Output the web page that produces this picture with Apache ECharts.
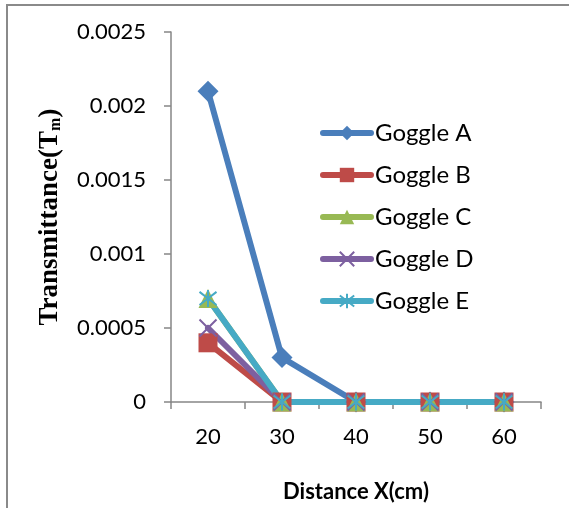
<!DOCTYPE html>
<html>
<head>
<meta charset="utf-8">
<script src="https://cdn.jsdelivr.net/npm/echarts@6/dist/echarts.min.js"></script>
<style>
html,body{margin:0;padding:0;background:#fff;}
#c{width:569px;height:508px;}
</style>
</head>
<body>
<div id="c"></div>
<script>
var categories = ['20', '30', '40', '50', '60'];
var goggleA = [0.0021, 0.0003, 0, 0, 0];
var goggleB = [0.0004, 0, 0, 0, 0];
var goggleC = [0.0007, 0, 0, 0, 0];
var goggleD = [0.0005, 0, 0, 0, 0];
var goggleE = [0.0007, 0, 0, 0, 0];
var seriesNames = ['Goggle A', 'Goggle B', 'Goggle C', 'Goggle D', 'Goggle E'];
var colors = ['#4A7EBB', '#BE4B48', '#98B954', '#7D60A0', '#46AAC5'];

var crossPath = 'path://M0,0L10,10M10,0L0,10';
var starPath = 'path://M0,0L10,10M10,0L0,10M5,-1.5L5,11.5';

function mk(name, data, color, symbol, size, extra) {
  return {
    name: name,
    type: 'line',
    data: data,
    symbol: symbol,
    symbolSize: size,
    showAllSymbol: true,
    lineStyle: { width: 6, color: color, cap: 'round', join: 'round' },
    itemStyle: Object.assign({ color: color }, extra || {}),
    emphasis: { disabled: true },
    animation: false
  };
}

var chart = echarts.init(document.getElementById('c'), null, { renderer: 'canvas' });
chart.setOption({
  backgroundColor: '#fff',
  animation: false,
  color: colors,
  graphic: [{
    type: 'rect',
    shape: { x: 7, y: 5, width: 620, height: 620 },
    style: { fill: 'none', stroke: '#8a8a8a', lineWidth: 2 },
    silent: true
  }],
  grid: { left: 171, right: 28, top: 32, bottom: 106, containLabel: false, outerBoundsMode: 'none' },
  legend: {
    orient: 'vertical',
    left: 320,
    top: 121,
    padding: 0,
    itemWidth: 48,
    itemHeight: 18,
    itemGap: 18,
    data: seriesNames,
    lineStyle: { width: 6, cap: 'round' },
    textStyle: { fontFamily: 'Lato', fontSize: 24, color: '#000', lineHeight: 23, padding: [0, 0, 0, -1] }
  },
  xAxis: {
    type: 'category',
    data: categories,
    boundaryGap: true,
    name: 'Distance X(cm)',
    nameLocation: 'middle',
    nameGap: 79,
    nameTextStyle: { fontFamily: 'Lato', fontWeight: 'bold', fontSize: 22, color: '#000' },
    axisLine: { lineStyle: { color: '#868686', width: 1.5 } },
    axisTick: { show: true, length: 7, lineStyle: { color: '#868686', width: 1.5 } },
    axisLabel: { fontFamily: 'Lato', fontSize: 22, color: '#000', margin: 24 },
    splitLine: { show: false }
  },
  yAxis: {
    type: 'value',
    min: 0,
    max: 0.0025,
    interval: 0.0005,
    name: '{a|Transmittance(T}{b|m}{a|)}',
    nameLocation: 'middle',
    nameGap: 107,
    nameRotate: 90,
    nameTextStyle: {
      rich: {
        a: { fontFamily: 'Liberation Serif', fontWeight: 'bold', fontSize: 27, color: '#000' },
        b: { fontFamily: 'Liberation Serif', fontWeight: 'bold', fontSize: 16, color: '#000', padding: [12, 0, 0, 0] }
      }
    },
    axisLine: { show: true, lineStyle: { color: '#868686', width: 1.5 } },
    axisTick: { show: true, length: 7, lineStyle: { color: '#868686', width: 1.5 } },
    axisLabel: {
      fontFamily: 'Lato', fontSize: 22, color: '#000', margin: 25,
      formatter: function (v) { return String(+v.toFixed(4)); }
    },
    splitLine: { show: false }
  },
  series: [
    mk(seriesNames[0], goggleA, colors[0], 'diamond', 21),
    mk(seriesNames[1], goggleB, colors[1], 'rect', 19),
    mk(seriesNames[2], goggleC, colors[2], 'triangle', 19),
    mk(seriesNames[3], goggleD, colors[3], crossPath, 17, { borderColor: colors[3], borderWidth: 2 }),
    mk(seriesNames[4], goggleE, colors[4], starPath, 17, { borderColor: colors[4], borderWidth: 2 })
  ]
});
</script>
</body>
</html>
